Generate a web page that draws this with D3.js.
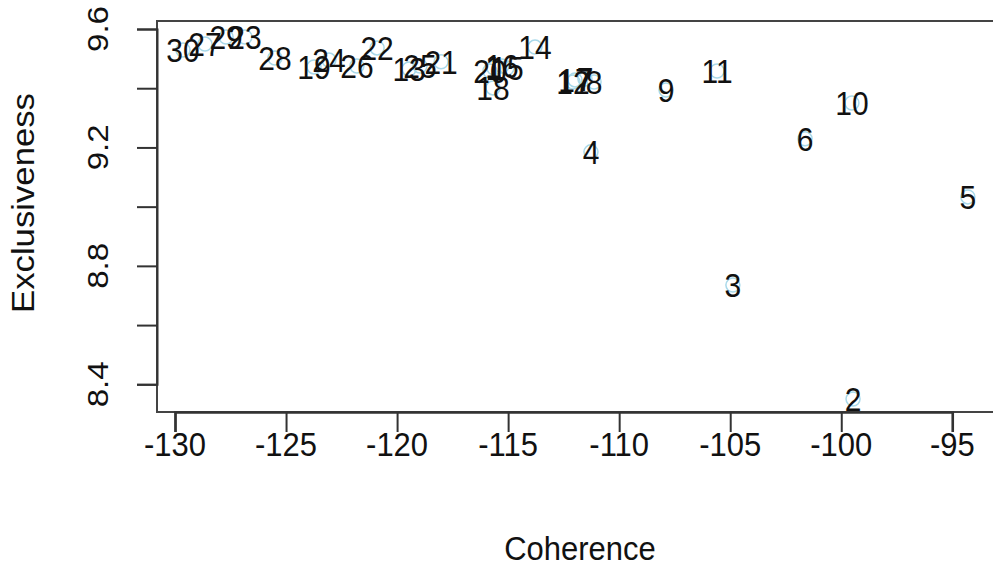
<!DOCTYPE html>
<html>
<head>
<meta charset="utf-8">
<script src="https://cdn.jsdelivr.net/npm/d3@7"></script>
<style>
  html, body { margin: 0; padding: 0; background: #fff; }
  svg { display: block; }
  text { font-family: "Liberation Sans", Arial, Helvetica, sans-serif; fill: #111; }
</style>
</head>
<body>
<svg id="chart" width="993" height="568"></svg>
<script>
// ---- data ----
const topics      = [1, 2, 3, 4, 5, 6, 7, 8, 9, 10, 11, 12, 13, 14, 15, 16, 17, 18, 19, 20, 21, 22, 23, 24, 25, 26, 27, 28, 29, 30];
const coherence   = [-115.64, -99.47, -104.88, -111.27, -94.30, -101.63, -111.54, -111.13, -107.89, -99.52,
                     -105.59, -112.08, -119.46, -113.79, -115.05, -115.28, -111.99, -115.68, -123.74, -115.82,
                     -118.02, -120.90, -126.85, -123.07, -118.97, -121.81, -128.65, -125.50, -127.70, -129.64];
const exclusivity = [9.468, 8.350, 8.735, 9.185, 9.033, 9.229, 9.431, 9.421, 9.394, 9.350,
                     9.458, 9.421, 9.465, 9.539, 9.468, 9.475, 9.428, 9.401, 9.472, 9.458,
                     9.489, 9.536, 9.573, 9.495, 9.475, 9.475, 9.549, 9.502, 9.573, 9.529];
const xTicks = [-130, -125, -120, -115, -110, -105, -100, -95];
const yTicks = [8.4, 8.6, 8.8, 9.0, 9.2, 9.4, 9.6];
const yTickLabels = [8.4, 8.8, 9.2, 9.6];
const xTitle = "Coherence";
const yTitle = "Exclusiveness";

// ---- layout ----
const svg = d3.select("#chart");
const box = { left: 157, top: 21, right: 1010, bottom: 412 };
const x = d3.scaleLinear().domain([-130, -95]).range([175, 952.3]);
const y = d3.scaleLinear().domain([8.4, 9.6]).range([384.3, 29]);
const fs = 31;
const stretch = 1.1;   // glyphs in the reference are a little taller than wide

const points = topics.map((t, i) => ({ t, cx: coherence[i], ex: exclusivity[i] }));

// plot box
svg.append("rect")
  .attr("x", box.left).attr("y", box.top)
  .attr("width", box.right - box.left).attr("height", box.bottom - box.top)
  .attr("fill", "none").attr("stroke", "#444").attr("stroke-width", 2);

// x axis
const xAxis = d3.axisBottom(x).tickValues(xTicks).tickSize(20).tickFormat("");
const gx = svg.append("g").attr("transform", `translate(0,${box.bottom})`).call(xAxis);
gx.select(".domain").attr("stroke", "#333").attr("stroke-width", 2.5);
gx.selectAll(".tick line").attr("stroke", "#333").attr("stroke-width", 2);

svg.append("g").selectAll("text").data(xTicks).join("text")
  .attr("transform", d => `translate(${x(d)},456) scale(1,${stretch})`)
  .attr("text-anchor", "middle")
  .attr("font-size", fs)
  .text(d => d3.format("d")(d).replace("−", "-"));

// y axis
const yAxis = d3.axisLeft(y).tickValues(yTicks).tickSize(20).tickFormat("");
const gy = svg.append("g").attr("transform", `translate(${box.left},0)`).call(yAxis);
gy.select(".domain").attr("stroke", "#333").attr("stroke-width", 2);
gy.selectAll(".tick line").attr("stroke", "#333").attr("stroke-width", 2);

svg.append("g").selectAll("text").data(yTickLabels).join("text")
  .attr("transform", d => `translate(108,${y(d)}) rotate(-90) scale(${stretch},1)`)
  .attr("text-anchor", "middle")
  .attr("font-size", fs - 1)
  .text(d => d3.format(".1f")(d));

// titles
svg.append("text").attr("transform", `translate(580,560) scale(1,${stretch})`)
  .attr("text-anchor", "middle").attr("font-size", fs).text(xTitle);
svg.append("text").attr("transform", `translate(34,203) rotate(-90) scale(1.12,1)`)
  .attr("text-anchor", "middle").attr("font-size", fs).text(yTitle);

// points (light blue circles)
svg.append("g").selectAll("circle").data(points).join("circle")
  .attr("cx", d => x(d.cx)).attr("cy", d => y(d.ex)).attr("r", 7)
  .attr("fill", "none").attr("stroke", "#a9d9ea").attr("stroke-width", 1.5);

// labels
svg.append("g").selectAll("text").data(points).join("text")
  .attr("transform", d => `translate(${x(d.cx)},${y(d.ex)}) scale(1,${stretch})`)
  .attr("dy", "0.36em")
  .attr("text-anchor", "middle")
  .attr("font-size", fs - 1)
  .text(d => d.t);
</script>
</body>
</html>
